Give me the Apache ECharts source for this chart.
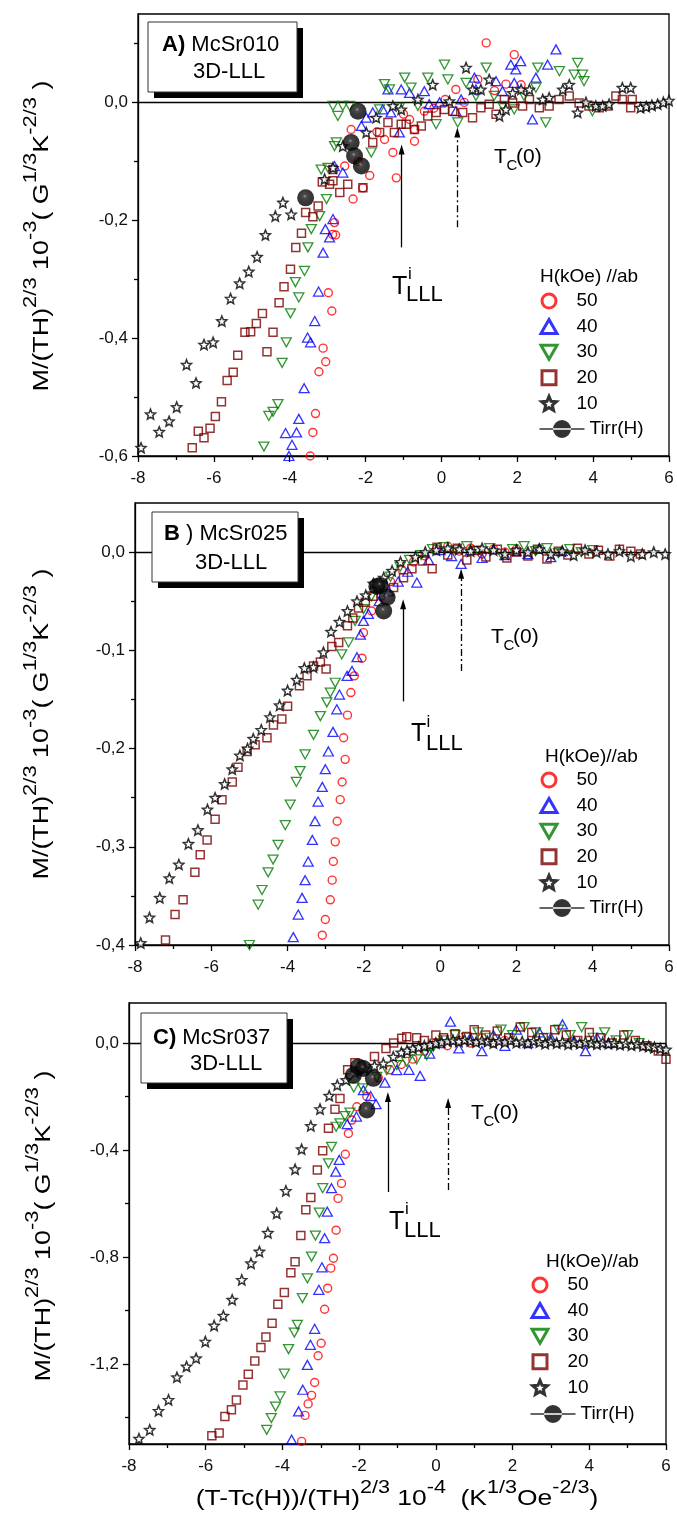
<!DOCTYPE html>
<html>
<head>
<meta charset="utf-8">
<title>M/(TH)^2/3 scaling — McSr010, McSr025, McSr037</title>
<script src="https://cdn.jsdelivr.net/npm/echarts@6.0.0/dist/echarts.min.js"></script>
<style>
html,body{margin:0;padding:0;background:#fff;}
#chart{width:677px;height:1515px;}
</style>
</head>
<body>
<div id="chart"></div>
<script>
// x: (T-Tc(H))/(TH)^{2/3} 1e-4 ; y: M/(TH)^{2/3} 1e-3
const FIELDS = ['50', '40', '30', '20', '10'];
const TIRR = 'Tirr(H)';

// ---------- A) McSr010 ----------
const a50 = [[-3.46,-0.600],[-3.39,-0.560],[-3.32,-0.528],[-3.23,-0.457],[-3.12,-0.417],[-3.05,-0.440],[-2.98,-0.323],[-2.89,-0.354],[-2.87,-0.224],[-2.82,-0.204],[-2.79,-0.225],[-2.55,-0.108],[-2.38,-0.046],[-2.33,-0.164],[-2.20,-0.100],[-2.07,-0.145],[-1.89,-0.124],[-1.70,-0.050],[-1.50,-0.063],[-1.28,-0.085],[-1.19,-0.128],[-1.00,-0.020],[-0.84,-0.029],[-0.71,-0.066],[-0.71,-0.046],[-0.45,-0.015],[-0.20,-0.010],[0.10,0.005],[0.38,0.022],[0.60,0.000],[0.96,0.039],[1.18,0.101],[1.40,0.020],[1.70,0.031],[1.92,0.081],[2.10,0.030]];
const a40 = [[-4.02,-0.600],[-3.94,-0.581],[-4.11,-0.561],[-3.82,-0.560],[-3.76,-0.537],[-3.62,-0.485],[-3.45,-0.407],[-3.53,-0.399],[-3.34,-0.371],[-3.24,-0.321],[-3.12,-0.255],[-2.95,-0.229],[-3.06,-0.215],[-2.86,-0.198],[-2.60,-0.119],[-2.82,-0.108],[-2.11,-0.040],[-1.98,-0.026],[-1.81,-0.017],[-1.55,-0.012],[-1.41,0.022],[-1.33,-0.017],[-1.11,-0.051],[-1.06,0.022],[-0.84,0.016],[-0.45,0.019],[-0.32,-0.003],[-0.05,0.000],[0.38,-0.015],[0.52,0.005],[0.87,0.042],[0.91,0.022],[1.44,0.036],[1.61,0.019],[1.83,0.064],[1.92,0.033],[1.96,0.056],[2.09,0.070],[2.40,-0.029],[2.49,0.042],[2.80,0.064],[3.02,0.090]];
const a30 = [[-4.68,-0.584],[-4.55,-0.532],[-4.44,-0.525],[-4.31,-0.512],[-4.20,-0.442],[-4.09,-0.407],[-3.98,-0.358],[-3.76,-0.331],[-3.85,-0.305],[-3.61,-0.286],[-3.52,-0.246],[-3.43,-0.215],[-3.21,-0.193],[-3.03,-0.164],[-3.17,-0.114],[-2.99,-0.111],[-2.82,-0.074],[-2.77,-0.068],[-2.73,-0.023],[-2.86,-0.006],[-2.60,-0.006],[-2.42,-0.006],[-1.85,-0.085],[-1.63,-0.012],[-1.50,0.031],[-1.37,0.022],[-1.11,-0.009],[-0.97,0.042],[-0.80,0.025],[-0.62,-0.006],[-0.36,0.042],[-0.14,-0.037],[0.08,0.064],[0.17,0.039],[0.43,-0.034],[0.65,0.033],[0.91,0.011],[1.18,0.059],[1.39,0.011],[1.61,-0.006],[1.92,-0.012],[2.18,0.011],[2.49,0.025],[2.54,0.059],[2.75,-0.034],[3.11,0.053],[3.50,0.047],[3.59,0.067],[3.72,0.047],[3.76,0.036],[3.98,-0.015]];
const a20 = [[-6.57,-0.586],[-6.41,-0.558],[-6.26,-0.569],[-6.10,-0.553],[-5.96,-0.533],[-5.80,-0.508],[-5.65,-0.472],[-5.49,-0.458],[-5.37,-0.429],[-5.18,-0.390],[-5.03,-0.389],[-4.88,-0.375],[-4.72,-0.358],[-4.60,-0.423],[-4.44,-0.390],[-4.28,-0.340],[-4.15,-0.313],[-3.98,-0.283],[-3.84,-0.246],[-3.69,-0.222],[-3.58,-0.187],[-3.39,-0.194],[-3.25,-0.176],[-3.14,-0.135],[-2.95,-0.139],[-2.86,-0.133],[-2.86,-0.114],[-2.68,-0.153],[-2.47,-0.139],[-2.07,-0.145],[-1.81,-0.068],[-1.63,-0.051],[-1.41,-0.034],[-1.24,-0.051],[-1.06,-0.037],[-0.93,-0.037],[-0.71,-0.046],[-0.53,-0.040],[-0.36,-0.023],[-0.14,-0.017],[0.08,-0.012],[0.30,-0.015],[0.56,-0.017],[0.82,-0.026],[1.04,-0.009],[1.26,-0.003],[1.44,-0.020],[1.66,0.005],[1.88,-0.001],[2.14,-0.006],[2.32,0.005],[2.58,-0.009],[2.84,-0.006],[3.10,0.005],[3.37,0.011],[3.63,-0.001],[3.89,-0.006],[4.16,-0.009],[4.38,-0.006],[4.60,0.011],[4.77,0.005],[4.99,-0.009],[5.03,0.005]];
const a10 = [[-7.92,-0.586],[-7.67,-0.529],[-7.44,-0.559],[-7.18,-0.541],[-6.98,-0.517],[-6.72,-0.445],[-6.47,-0.476],[-6.26,-0.411],[-6.02,-0.407],[-5.79,-0.371],[-5.56,-0.333],[-5.32,-0.307],[-5.08,-0.287],[-4.86,-0.262],[-4.64,-0.225],[-4.38,-0.193],[-4.18,-0.170],[-3.96,-0.190],[-3.08,-0.130],[-2.86,-0.111],[-2.60,-0.074],[-1.98,-0.051],[-1.72,-0.026],[-1.28,-0.006],[-1.06,-0.012],[-0.62,0.005],[-0.23,0.030],[0.21,0.002],[0.65,0.059],[0.82,0.022],[1.04,0.022],[1.26,0.039],[1.53,-0.023],[1.70,-0.012],[1.88,0.016],[2.10,0.022],[2.32,0.022],[2.67,0.005],[2.84,0.008],[3.20,0.022],[3.37,0.030],[3.59,-0.017],[3.81,0.000],[4.07,-0.006],[4.25,-0.006],[4.42,-0.003],[4.77,0.025],[4.99,0.025],[5.25,-0.009],[5.40,-0.007],[5.55,-0.005],[5.70,-0.003],[5.85,0.000],[6.00,0.003]];
const aTirr = [[-3.58,-0.162],[-2.20,-0.015],[-2.38,-0.068],[-2.29,-0.091],[-2.11,-0.108]];

// ---------- B) McSr025 ----------
const b50 = [[-3.09,-0.390],[-3.01,-0.374],[-2.88,-0.354],[-2.83,-0.334],[-2.80,-0.315],[-2.75,-0.295],[-2.70,-0.274],[-2.62,-0.252],[-2.57,-0.234],[-2.49,-0.211],[-2.53,-0.189],[-2.43,-0.166],[-2.34,-0.143],[-2.25,-0.126],[-2.05,-0.108],[-2.01,-0.082],[-1.80,-0.060],[-1.55,-0.045],[-1.30,-0.030],[-1.00,-0.018],[-0.70,-0.010],[-0.40,-0.004],[-0.10,0.003],[0.20,0.006],[0.50,0.001],[0.80,0.004],[1.10,-0.002],[1.40,0.003],[1.70,0.000],[2.00,0.003]];
const b40 = [[-3.85,-0.392],[-3.72,-0.369],[-3.62,-0.352],[-3.54,-0.334],[-3.46,-0.315],[-3.35,-0.293],[-3.28,-0.274],[-3.20,-0.254],[-3.09,-0.239],[-3.01,-0.221],[-2.93,-0.203],[-2.81,-0.183],[-2.71,-0.160],[-2.64,-0.145],[-2.44,-0.126],[-2.31,-0.121],[-2.18,-0.107],[-2.09,-0.084],[-2.01,-0.070],[-1.88,-0.063],[-1.60,-0.050],[-1.35,-0.040],[-1.10,-0.030],[-0.85,-0.020],[-0.61,-0.031],[-0.30,-0.008],[0.00,0.002],[0.30,-0.004],[0.55,-0.012],[0.80,0.002],[1.10,-0.006],[1.40,0.003],[1.70,-0.003],[2.00,0.001],[2.30,-0.002],[2.60,0.004],[2.90,-0.005],[3.20,0.001]];
const b30 = [[-5.00,-0.400],[-4.77,-0.359],[-4.67,-0.344],[-4.51,-0.326],[-4.38,-0.313],[-4.25,-0.298],[-4.06,-0.278],[-3.93,-0.257],[-3.77,-0.234],[-3.67,-0.223],[-3.54,-0.206],[-3.32,-0.186],[-3.14,-0.167],[-2.97,-0.153],[-2.88,-0.143],[-2.75,-0.133],[-2.58,-0.104],[-2.40,-0.092],[-2.23,-0.070],[-2.01,-0.058],[-1.80,-0.045],[-1.55,-0.035],[-1.30,-0.025],[-1.05,-0.015],[-0.80,-0.008],[-0.50,-0.003],[-0.20,0.003],[0.10,0.005],[0.40,0.002],[0.70,0.006],[1.00,0.001],[1.30,0.004],[1.60,-0.002],[1.90,0.003],[2.20,0.006],[2.50,0.001],[2.80,0.004],[3.10,-0.001],[3.40,0.003],[3.70,0.000],[4.00,0.002]];
const b20 = [[-7.20,-0.395],[-6.95,-0.369],[-6.74,-0.354],[-6.43,-0.326],[-6.29,-0.308],[-6.11,-0.293],[-5.90,-0.272],[-5.72,-0.252],[-5.45,-0.234],[-5.30,-0.219],[-5.06,-0.203],[-4.85,-0.196],[-4.54,-0.189],[-4.37,-0.176],[-4.15,-0.170],[-4.00,-0.157],[-3.69,-0.136],[-3.49,-0.126],[-3.32,-0.116],[-3.14,-0.112],[-2.99,-0.119],[-2.84,-0.096],[-2.66,-0.092],[-2.43,-0.075],[-2.29,-0.067],[-2.14,-0.057],[-1.96,-0.051],[-1.76,-0.045],[-1.22,-0.036],[-0.96,-0.026],[-0.74,-0.017],[-0.47,-0.009],[-0.21,-0.017],[-0.08,0.005],[0.20,-0.003],[0.45,0.004],[0.70,-0.008],[0.95,0.002],[1.20,-0.005],[1.50,0.003],[1.75,-0.006],[2.00,0.000],[2.30,-0.004],[2.55,0.003],[2.80,-0.007],[3.10,0.001],[3.35,-0.003],[3.60,0.004],[3.90,-0.002],[4.15,0.002],[4.45,-0.004],[4.70,0.003],[5.00,0.001],[5.25,-0.002]];
const b10 = [[-7.85,-0.398],[-7.62,-0.372],[-7.35,-0.352],[-7.10,-0.332],[-6.85,-0.318],[-6.60,-0.297],[-6.35,-0.283],[-6.10,-0.262],[-5.90,-0.250],[-5.65,-0.236],[-5.45,-0.221],[-5.25,-0.207],[-5.05,-0.200],[-4.90,-0.190],[-4.69,-0.181],[-4.46,-0.168],[-4.21,-0.156],[-4.00,-0.141],[-3.76,-0.130],[-3.56,-0.118],[-3.32,-0.117],[-3.06,-0.102],[-2.86,-0.081],[-2.64,-0.071],[-2.43,-0.060],[-2.18,-0.050],[-1.95,-0.044],[-1.75,-0.032],[-1.48,-0.026],[-1.26,-0.019],[-1.04,-0.010],[-0.65,-0.005],[-0.39,0.000],[-0.10,0.002],[0.20,0.004],[0.50,0.003],[0.80,0.001],[1.10,0.004],[1.40,0.002],[1.70,-0.002],[2.00,0.002],[2.30,0.000],[2.60,0.003],[2.90,-0.002],[3.20,0.001],[3.50,-0.003],[3.80,0.002],[4.10,0.000],[4.40,-0.002],[4.70,0.001],[5.00,-0.004],[5.30,-0.002],[5.60,0.000],[5.90,-0.002]];
const bTirr = [[-1.66,-0.035],[-1.57,-0.034],[-1.39,-0.046],[-1.48,-0.060]];

// ---------- C) McSr037 ----------
const c50 = [[-3.50,-1.490],[-3.41,-1.393],[-3.33,-1.350],[-3.24,-1.318],[-3.16,-1.270],[-3.07,-1.170],[-2.99,-1.123],[-2.90,-0.996],[-2.82,-0.917],[-2.74,-0.842],[-2.67,-0.805],[-2.60,-0.700],[-2.55,-0.581],[-2.46,-0.525],[-2.36,-0.416],[-2.28,-0.338],[-2.19,-0.288],[-2.06,-0.238],[-1.80,-0.200],[-1.50,-0.130],[-1.20,-0.100],[-0.90,-0.080],[-0.60,-0.060],[-0.30,-0.030],[0.00,0.000],[0.30,-0.010],[0.60,0.010],[0.90,0.000],[1.20,0.020],[1.50,0.000],[1.80,0.010]];
const c40 = [[-3.76,-1.484],[-3.58,-1.378],[-3.47,-1.297],[-3.35,-1.204],[-3.27,-1.129],[-3.16,-1.069],[-3.05,-0.923],[-2.97,-0.839],[-2.90,-0.730],[-2.83,-0.631],[-2.72,-0.543],[-2.61,-0.481],[-2.52,-0.437],[-2.31,-0.303],[-2.07,-0.275],[-1.89,-0.176],[-1.70,-0.198],[-1.56,-0.228],[-1.33,-0.148],[-1.02,-0.101],[-0.70,-0.100],[-0.41,-0.123],[-0.16,-0.039],[0.10,0.000],[0.38,0.080],[0.60,-0.020],[0.90,0.020],[1.20,-0.030],[1.50,0.030],[1.80,-0.010],[2.10,0.050],[2.40,0.000],[2.70,0.040],[3.00,0.020],[3.30,0.070],[3.60,0.010],[3.90,-0.030],[4.20,0.020],[4.50,0.000]];
const c30 = [[-4.54,-1.507],[-4.41,-1.447],[-4.29,-1.403],[-4.18,-1.360],[-4.06,-1.322],[-3.95,-1.237],[-3.84,-1.145],[-3.69,-1.083],[-3.61,-1.054],[-3.48,-0.954],[-3.35,-0.880],[-3.24,-0.799],[-3.14,-0.720],[-3.04,-0.634],[-2.95,-0.543],[-2.80,-0.450],[-2.72,-0.388],[-2.60,-0.313],[-2.50,-0.300],[-2.37,-0.273],[-2.24,-0.260],[-2.14,-0.166],[-1.90,-0.169],[-1.54,-0.126],[-1.28,-0.101],[-1.02,-0.082],[-0.76,-0.070],[-0.50,-0.061],[-0.24,-0.045],[-0.07,-0.014],[0.20,0.010],[0.50,0.030],[0.80,0.020],[1.10,0.040],[1.40,0.020],[1.70,0.050],[2.00,0.030],[2.30,0.060],[2.60,0.040],[2.90,0.020],[3.20,0.050],[3.50,0.030],[3.80,0.060],[4.10,0.020],[4.40,0.040],[4.70,0.010],[5.00,0.030],[5.30,0.000],[5.60,-0.020]];
const c20 = [[-6.12,-1.509],[-5.84,-1.469],[-5.65,-1.459],[-5.50,-1.397],[-5.33,-1.372],[-5.20,-1.335],[-5.03,-1.279],[-4.89,-1.239],[-4.72,-1.189],[-4.56,-1.139],[-4.43,-1.100],[-4.27,-1.048],[-4.12,-0.977],[-3.95,-0.933],[-3.78,-0.859],[-3.67,-0.818],[-3.52,-0.720],[-3.39,-0.624],[-3.26,-0.578],[-3.09,-0.475],[-2.95,-0.403],[-2.80,-0.319],[-2.63,-0.248],[-2.50,-0.207],[-2.30,-0.100],[-2.11,-0.074],[-1.60,-0.050],[-1.30,-0.020],[-1.10,0.000],[-0.89,0.018],[-0.76,0.024],[-0.50,0.020],[-0.30,0.010],[0.00,0.030],[0.20,0.020],[0.50,0.035],[0.80,0.025],[1.00,0.050],[1.30,0.030],[1.60,0.045],[1.90,0.020],[2.20,0.060],[2.50,0.040],[2.80,0.020],[3.10,0.050],[3.40,0.030],[3.70,0.010],[4.00,0.040],[4.30,0.020],[4.60,0.000],[4.90,0.030],[5.20,0.010],[5.50,-0.010],[5.80,-0.030],[6.00,-0.060]];
const c10 = [[-7.74,-1.480],[-7.46,-1.447],[-7.23,-1.376],[-6.97,-1.335],[-6.75,-1.250],[-6.50,-1.210],[-6.25,-1.179],[-6.01,-1.117],[-5.78,-1.057],[-5.54,-1.020],[-5.31,-0.960],[-5.06,-0.886],[-4.82,-0.824],[-4.60,-0.780],[-4.38,-0.710],[-4.15,-0.637],[-3.91,-0.553],[-3.67,-0.472],[-3.50,-0.397],[-3.26,-0.310],[-3.02,-0.247],[-2.78,-0.197],[-2.57,-0.157],[-2.34,-0.138],[-2.10,-0.110],[-1.85,-0.095],[-1.60,-0.085],[-1.37,-0.076],[-1.11,-0.051],[-0.90,-0.035],[-0.75,-0.028],[-0.60,-0.020],[-0.45,-0.015],[-0.30,-0.010],[-0.15,-0.006],[0.00,0.000],[0.15,0.004],[0.30,0.008],[0.45,0.010],[0.60,0.006],[0.75,0.012],[0.90,0.008],[1.05,0.004],[1.20,0.010],[1.35,0.006],[1.50,0.000],[1.65,0.008],[1.80,0.004],[1.95,0.010],[2.10,0.002],[2.25,0.006],[2.40,0.000],[2.55,0.008],[2.70,0.004],[2.85,-0.002],[3.00,0.006],[3.15,0.000],[3.30,0.004],[3.45,-0.004],[3.60,0.002],[3.75,-0.002],[3.90,0.004],[4.05,0.000],[4.20,-0.004],[4.35,0.002],[4.50,-0.002],[4.65,0.000],[4.80,-0.006],[4.95,-0.002],[5.10,-0.008],[5.25,-0.004],[5.40,-0.010],[5.55,-0.012],[5.70,-0.016],[5.85,-0.020],[6.00,-0.024]];
const cTirr = [[-2.15,-0.120],[-2.02,-0.089],[-1.89,-0.095],[-1.63,-0.132],[-1.80,-0.250]];

// Tick values
const xMajor = [-8, -6, -4, -2, 0, 2, 4, 6];
const yMajorA = [-0.6, -0.4, -0.2, 0];
const yMinorA = [-0.5, -0.3, -0.1, 0.1];
const yMajorB = [-0.4, -0.3, -0.2, -0.1, 0];
const yMinorB = [-0.35, -0.25, -0.15, -0.05];
const yMajorC = [-1.2, -0.8, -0.4, 0];
const yMinorC = [-1.4, -1.0, -0.6, -0.2];

// ---------- panels ----------
const FONT = '"Liberation Sans", Arial, Helvetica, sans-serif';
const panels = [
  { letter: 'A)', sample: ' McSr010', series: { '50': a50, '40': a40, '30': a30, '20': a20, '10': a10 }, tirr: aTirr,
    y: [-0.6, 0.15], major: yMajorA, minor: yMinorA,
    lll: { x: -1.05, from: -0.246, to: -0.080 }, tc0: { x: 0.42, from: -0.212, to: -0.051 } },
  { letter: 'B', sample: ' ) McSr025', series: { '50': b50, '40': b40, '30': b30, '20': b20, '10': b10 }, tirr: bTirr,
    y: [-0.4, 0.05], major: yMajorB, minor: yMinorB,
    lll: { x: -0.97, from: -0.152, to: -0.053 }, tc0: { x: 0.55, from: -0.121, to: -0.022 } },
  { letter: 'C)', sample: ' McSr037', series: { '50': c50, '40': c40, '30': c30, '20': c20, '10': c10 }, tirr: cTirr,
    y: [-1.5, 0.15], major: yMajorC, minor: yMinorC,
    lll: { x: -1.25, from: -0.557, to: -0.202 }, tc0: { x: 0.32, from: -0.550, to: -0.224 } }
];

// pixel layout of each panel
const LAYOUT = [
  { grid: { left: 138, top: 14, width: 531, height: 442 }, box: [148, 22, 149, 70], l1: [162, 45], l2: [193, 72],
    ytitle: [42, 236], T: [392, 287.5], i: [408, 274], L: [406, 294.5], tcT: [494, 157.5], tcC: [506.5, 166], tcP: [516, 157.5],
    legTitle: [540, 277], legLeft: 539.5, legTop: 291, tirrTop: 419 },
  { grid: { left: 135, top: 503, width: 534, height: 442 }, box: [152, 512, 146, 70], l1: [164, 534], l2: [195, 563],
    ytitle: [42, 724], T: [411, 734.5], i: [426.5, 722], L: [426, 743.5], tcT: [491, 637], tcC: [503.5, 645.5], tcP: [513, 637],
    legTitle: [545, 757], legLeft: 539.5, legTop: 770, tirrTop: 898 },
  { grid: { left: 129, top: 1003, width: 537, height: 441 }, box: [141, 1013, 146, 70], l1: [153, 1038], l2: [190, 1064],
    ytitle: [44, 1226], T: [389, 1222], i: [405, 1209], L: [404, 1231], tcT: [471, 1113], tcC: [483.5, 1121.5], tcP: [493, 1113],
    legTitle: [546, 1262], legLeft: 530.5, legTop: 1275, tirrTop: 1404 }
];

// ---------- marker styles ----------
const STAR = 'path://M10,0L12.645,6.36L19.511,6.91L14.28,11.39L15.878,18.09L10,14.5L4.122,18.09L5.72,11.39L0.489,6.91L7.355,6.36Z';
const CLEAR = 'rgba(0,0,0,0)';
const MARK = {
  '50': { symbol: 'circle', size: 8, rotate: 0, item: { color: CLEAR, borderColor: '#ff0000', borderWidth: 1.4 } },
  '40': { symbol: 'triangle', size: [10, 9], rotate: 0, item: { color: CLEAR, borderColor: '#0000ff', borderWidth: 1.3 } },
  '30': { symbol: 'triangle', size: [10, 9], rotate: 180, item: { color: CLEAR, borderColor: '#007a00', borderWidth: 1.3 } },
  '20': { symbol: 'rect', size: 8, rotate: 0, item: { color: CLEAR, borderColor: '#7a0000', borderWidth: 1.5 } },
  '10': { symbol: STAR, size: 10, rotate: 0, item: { color: '#ffffff', borderColor: '#000000', borderWidth: 1.5 } }
};
const BALL = new echarts.graphic.RadialGradient(0.45, 0.4, 0.6, [
  { offset: 0, color: '#8a8a8a' }, { offset: 0.18, color: '#1c1c1c' }, { offset: 0.6, color: '#050505' }, { offset: 1, color: '#000000' }
]);

const LEG_ICON = {
  '50': 'path://M0,7A7,7,0,1,1,14,7A7,7,0,1,1,0,7Z',
  '40': 'path://M8,0L16,14L0,14Z',
  '30': 'path://M0,0L16,0L8,14Z',
  '20': 'path://M0,0H14V14H0Z',
  '10': STAR
};
const LEG_STYLE = {
  '50': { color: CLEAR, borderColor: '#ff0000', borderWidth: 3 },
  '40': { color: CLEAR, borderColor: '#0000ff', borderWidth: 3 },
  '30': { color: CLEAR, borderColor: '#007a00', borderWidth: 3 },
  '20': { color: CLEAR, borderColor: '#7a0000', borderWidth: 3 },
  '10': { color: '#ffffff', borderColor: '#000000', borderWidth: 3 }
};
const TIRR_ICON = 'path://M0,9.2H45V10.8H0ZM13.5,10A9,9,0,1,0,31.5,10A9,9,0,1,0,13.5,10Z';

const fmtY = v => (Math.round(v * 100) / 100).toFixed(1).replace('.', ',');
const lineBlack = { color: '#000', width: 1.3 };

// ---------- build option ----------
const grid = [], xAxis = [], yAxis = [], series = [], legend = [], graphic = [];

function text(x, y, str, size, extra) {
  return { type: 'text', x: x, y: y, z: 100, silent: true,
    style: Object.assign({ text: str, fontSize: size, fontFamily: FONT, fill: '#000', align: 'left', verticalAlign: 'middle' }, extra || {}) };
}

const SUP_RICH = {
  m: { fontSize: 22, fontFamily: FONT, lineHeight: 40, fill: '#000' },
  s: { fontSize: 18, fontFamily: FONT, lineHeight: 10, verticalAlign: 'top', fill: '#000' }
};
const Y_TITLE = '{m|M/(TH)}{s|2/3}{m| 10}{s|-3}{m|( G}{s|1/3}{m|K}{s|-2/3}{m| )}';
const X_TITLE = '{m|(T-Tc(H))/(TH)}{s|2/3}{m| 10}{s|-4}{m|  (K}{s|1/3}{m|Oe}{s|-2/3}{m|)}';

panels.forEach((P, p) => {
  const L = LAYOUT[p];
  grid.push(Object.assign({ show: true, borderColor: '#000', borderWidth: 1.3, backgroundColor: 'transparent' }, L.grid));

  xAxis.push({
    gridIndex: p, type: 'value', min: -8, max: 6, interval: 2,
    axisLine: { show: true, onZero: false, lineStyle: lineBlack },
    axisTick: { show: true, length: 6, lineStyle: lineBlack },
    minorTick: { show: true, splitNumber: 2, length: 4, lineStyle: lineBlack },
    axisLabel: { fontSize: 17, fontFamily: FONT, color: '#111', margin: 14, formatter: v => String(v) },
    splitLine: { show: false }, minorSplitLine: { show: false }
  });

  yAxis.push({
    gridIndex: p, type: 'value', position: 'left', min: P.y[0], max: P.y[1],
    axisLine: { show: true, onZero: false, lineStyle: lineBlack },
    axisTick: { show: true, length: 6, customValues: P.major, lineStyle: lineBlack },
    axisLabel: { fontSize: 17, fontFamily: FONT, color: '#111', margin: 10, customValues: P.major, formatter: fmtY },
    splitLine: { show: false }
  });
  // companion axis carrying the minor ticks
  yAxis.push({
    gridIndex: p, type: 'value', position: 'left', min: P.y[0], max: P.y[1],
    axisLine: { show: false, onZero: false },
    axisTick: { show: true, length: 4, customValues: P.minor, lineStyle: lineBlack },
    axisLabel: { show: false, customValues: [] },
    splitLine: { show: false }
  });

  // zero line and the two arrows
  series.push({
    name: 'guides-' + p, type: 'scatter', xAxisIndex: p, yAxisIndex: 2 * p, data: [], silent: true, z: 1,
    markLine: {
      silent: true, animation: false, label: { show: false }, emphasis: { disabled: true },
      data: [
        [{ coord: [-8, 0], symbol: 'none', lineStyle: { color: '#000', width: 1.3, type: 'solid' } },
         { coord: [6, 0], symbol: 'none' }],
        [{ coord: [P.lll.x, P.lll.from], symbol: 'none', lineStyle: { color: '#000', width: 1.3, type: 'solid' } },
         { coord: [P.lll.x, P.lll.to], symbol: 'triangle', symbolSize: [6, 10] }],
        [{ coord: [P.tc0.x, P.tc0.from], symbol: 'none', lineStyle: { color: '#000', width: 1.3, type: [7, 3, 2, 3] } },
         { coord: [P.tc0.x, P.tc0.to], symbol: 'triangle', symbolSize: [6, 10] }]
      ]
    }
  });

  FIELDS.forEach((h, k) => {
    const M = MARK[h];
    series.push({
      name: h, type: 'scatter', xAxisIndex: p, yAxisIndex: 2 * p, data: P.series[h],
      symbol: M.symbol, symbolSize: M.size, symbolRotate: M.rotate, itemStyle: M.item,
      silent: true, z: 3 + k
    });
  });
  series.push({
    name: TIRR, type: 'scatter', xAxisIndex: p, yAxisIndex: 2 * p, data: P.tirr,
    symbol: 'circle', symbolSize: 17, itemStyle: { color: BALL }, silent: true, z: 10
  });

  legend.push({
    orient: 'vertical', left: L.legLeft, top: L.legTop, padding: 0, itemWidth: 45, itemHeight: 14, itemGap: 5.6,
    selectedMode: false, textStyle: { fontSize: 19, lineHeight: 20, color: '#000', fontFamily: FONT },
    data: FIELDS.map(h => ({ name: h, icon: LEG_ICON[h], itemStyle: LEG_STYLE[h] }))
  });
  legend.push({
    orient: 'vertical', left: L.legLeft, top: L.tirrTop, padding: 0, itemWidth: 45, itemHeight: 18,
    selectedMode: false, textStyle: { fontSize: 19, lineHeight: 20, color: '#000', fontFamily: FONT },
    data: [{ name: TIRR, icon: TIRR_ICON, itemStyle: { color: '#000', borderWidth: 0 } }]
  });

  // sample box with hard drop shadow
  const [bx, by, bw, bh] = L.box;
  graphic.push({ type: 'rect', z: 98, silent: true, shape: { x: bx + 6, y: by + 6, width: bw, height: bh }, style: { fill: '#000' } });
  graphic.push({ type: 'rect', z: 99, silent: true, shape: { x: bx, y: by, width: bw, height: bh }, style: { fill: '#fff', stroke: '#333', lineWidth: 1 } });
  graphic.push(text(L.l1[0], L.l1[1], '{b|' + P.letter + '}{r|' + P.sample + '}', 22, {
    rich: { b: { fontSize: 22, fontWeight: 'bold', fontFamily: FONT, fill: '#000' }, r: { fontSize: 22, fontFamily: FONT, fill: '#000' } }
  }));
  graphic.push(text(L.l2[0], L.l2[1], '3D-LLL', 22));

  // rotated y title
  graphic.push({ type: 'text', x: L.ytitle[0], y: L.ytitle[1], rotation: Math.PI / 2, scaleX: 1.22, z: 100, silent: true,
    style: { text: Y_TITLE, rich: SUP_RICH, align: 'center', verticalAlign: 'middle', fill: '#000', fontFamily: FONT } });

  // T^i_LLL
  graphic.push(text(L.T[0], L.T[1], 'T', 25));
  graphic.push(text(L.i[0], L.i[1], 'i', 17));
  graphic.push(text(L.L[0], L.L[1], 'LLL', 22));
  // Tc(0)
  graphic.push(text(L.tcT[0], L.tcT[1], 'T', 21));
  graphic.push(text(L.tcC[0], L.tcC[1], 'C', 15));
  graphic.push(text(L.tcP[0], L.tcP[1], '(0)', 21));

  // legend heading
  graphic.push(text(L.legTitle[0], L.legTitle[1], p === 0 ? 'H(kOe) //ab' : 'H(kOe)//ab', 19));
});

// x title under the last panel
graphic.push({ type: 'text', x: 397, y: 1499, scaleX: 1.2, z: 100, silent: true,
  style: { text: X_TITLE, rich: SUP_RICH, align: 'center', verticalAlign: 'middle', fill: '#000', fontFamily: FONT } });

const chart = echarts.init(document.getElementById('chart'), null, { renderer: 'canvas' });
chart.setOption({
  backgroundColor: '#fff',
  animation: false,
  textStyle: { fontFamily: FONT },
  grid: grid, xAxis: xAxis, yAxis: yAxis, legend: legend, series: series, graphic: graphic
});
</script>
</body>
</html>
